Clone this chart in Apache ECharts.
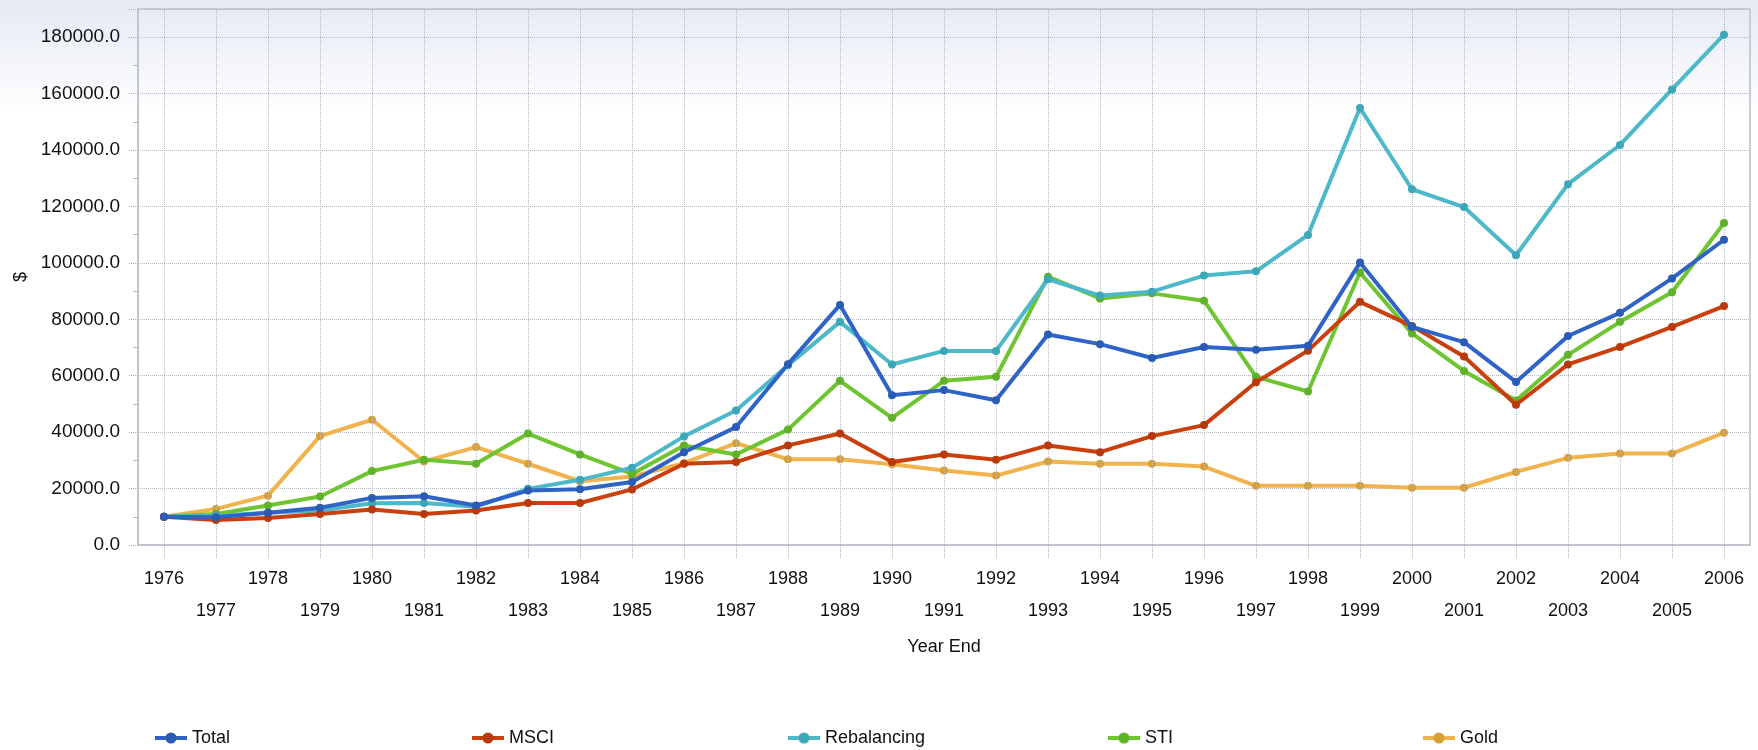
<!DOCTYPE html>
<html>
<head>
<meta charset="utf-8">
<script src="https://cdn.jsdelivr.net/npm/echarts@6/dist/echarts.min.js"></script>
<style>
html,body{margin:0;padding:0;}
body{background:linear-gradient(to bottom,#e5e9f4 0px,#ffffff 115px,#ffffff 750px);}
#chart{width:1758px;height:750px;}
</style>
</head>
<body>
<div id="chart"></div>
<script>
var years = ['1976','1977','1978','1979','1980','1981','1982','1983','1984','1985','1986','1987','1988','1989','1990','1991','1992','1993','1994','1995','1996','1997','1998','1999','2000','2001','2002','2003','2004','2005','2006'];
var total = [10000,9800,11400,13200,16700,17300,14000,19300,19800,22300,32900,41800,64100,85100,53100,54900,51300,74600,71200,66300,70200,69200,70600,100100,77300,71900,57800,74100,82300,94500,108200];
var msci = [10000,8900,9600,11000,12600,11000,12200,14900,14900,19700,28800,29400,35300,39500,29400,32100,30200,35300,32900,38600,42500,57700,68900,86200,77600,66800,49700,64000,70200,77300,84700];
var rebalancing = [10000,10400,11400,12200,14800,14900,13600,19900,23100,27400,38500,47700,63700,79100,64000,68800,68800,94200,88400,89800,95500,97000,109900,154900,126100,119800,102700,127900,141800,161500,180900];
var sti = [10000,11000,14000,17200,26200,30200,28800,39500,32100,25200,35300,32100,40900,58200,45100,58200,59600,95100,87400,89200,86600,59600,54400,96600,75000,61700,51200,67400,79100,89600,114100];
var gold = [10000,12800,17500,38600,44400,29600,34700,28800,22600,24300,29000,36100,30400,30400,28600,26400,24600,29600,28800,28800,27800,21000,21000,21000,20300,20300,25900,30900,32400,32400,39800];
var seriesNames = ['Total','MSCI','Rebalancing','STI','Gold'];

var lineColors = ['#2f64c6','#c9400e','#4cb8c9','#6ec431','#f1b34e'];
var dotColors = ['#2a5bb5','#b83a0c','#3ea7b7','#5fb22a','#d9a035'];
var legendLeft = [148,465,781,1101,1416];
var dataSets = [total,msci,rebalancing,sti,gold];
var zs = [8,7,6,5,4];
var fontFam = "'Liberation Sans', Arial, sans-serif";

var chart = echarts.init(document.getElementById('chart'), null, {renderer:'canvas'});

var series = seriesNames.map(function(n,i){
  return {
    name:n, type:'line', data:dataSets[i], z:zs[i],
    symbol:'circle', symbolSize:8, showSymbol:true,
    lineStyle:{width:4,color:lineColors[i]},
    itemStyle:{color:dotColors[i]},
    emphasis:{disabled:true}
  };
});
series.unshift({
  type:'line', data:[], z:1, silent:true,
  markLine:{
    silent:true, symbol:'none', animation:false,
    label:{show:false},
    lineStyle:{type:'dotted',color:'#b3b8c1',width:1},
    emphasis:{disabled:true},
    data: years.map(function(y){return {xAxis:y};})
  }
});

chart.setOption({
  animation:false,
  backgroundColor:'transparent',
  textStyle:{fontFamily:fontFam},
  grid:{left:138,right:8,top:9,bottom:205,show:true,borderColor:'#c7ccd5',borderWidth:2,backgroundColor:'transparent',outerBoundsMode:'none'},
  legend: seriesNames.map(function(n,i){
    return {data:[n], left:legendLeft[i], top:724, itemWidth:32, itemHeight:14,
      lineStyle:{width:4},
      textStyle:{fontSize:18,color:'#111',fontFamily:fontFam}, selectedMode:false};
  }),
  xAxis:{
    type:'category', data:years, boundaryGap:true,
    name:'Year End', nameLocation:'middle', nameGap:93,
    nameTextStyle:{fontSize:18,color:'#111',fontFamily:fontFam},
    axisLine:{show:true,lineStyle:{color:'#c0c5ce',width:2}},
    axisTick:{show:true,alignWithLabel:true,length:14,lineStyle:{type:'dotted',color:'#a8adb6'}},
    axisLabel:{interval:0,fontSize:18,color:'#111',margin:18,lineHeight:32,fontFamily:fontFam,
      formatter:function(v,i){return i%2 ? '\n'+v : v;}},
    splitLine:{show:false}
  },
  yAxis:{
    type:'value', min:0, max:190000, interval:20000,
    name:'$', nameLocation:'middle', nameRotate:90, nameGap:103,
    nameTextStyle:{fontSize:18,color:'#111',fontFamily:fontFam},
    axisLine:{show:true,lineStyle:{color:'#c0c5ce',width:2}},
    axisTick:{show:true,length:10,lineStyle:{type:'dotted',color:'#a8adb6'}},
    minorTick:{show:true,splitNumber:2,length:5,lineStyle:{color:'#b0b5be'}},
    axisLabel:{fontSize:19,color:'#111',margin:18,showMaxLabel:false,fontFamily:fontFam,
      formatter:function(v){return v.toFixed(1);}},
    splitLine:{show:true,lineStyle:{type:'dotted',color:'#b3b8c1',width:1}}
  },
  series:series
});
</script>
</body>
</html>
